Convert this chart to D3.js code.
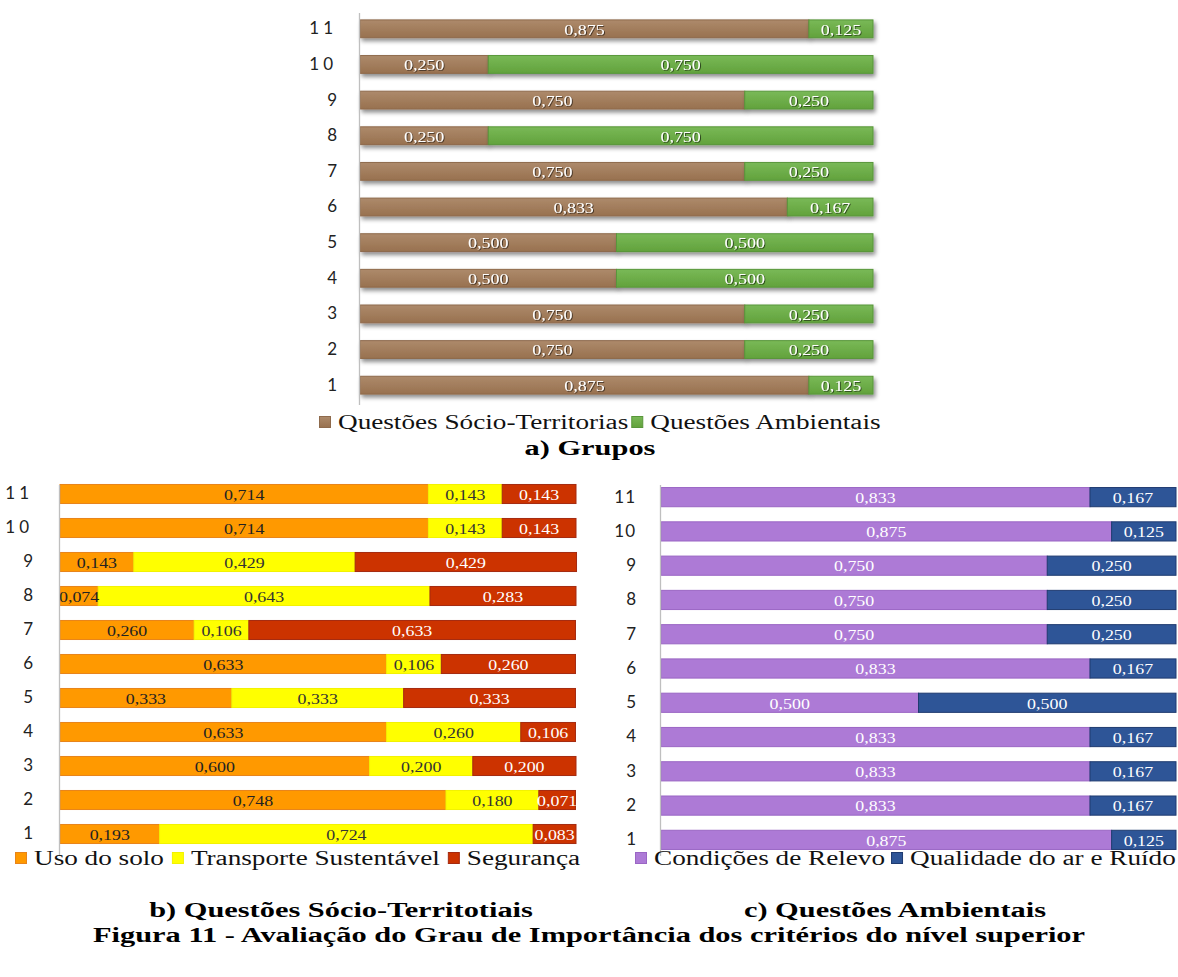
<!DOCTYPE html>
<html>
<head>
<meta charset="utf-8">
<script src="https://cdn.jsdelivr.net/npm/d3@7/dist/d3.min.js"></script>
<style>
  html, body { margin: 0; padding: 0; background: #fff; }
  svg { display: block; }
</style>
</head>
<body>
<svg id="fig" width="1178" height="977"></svg>
<script>
// Criteria rows (1..11)
const rowLabels = ["1", "2", "3", "4", "5", "6", "7", "8", "9", "10", "11"];

// a) Grupos
const grupoSeries = ["Questões Sócio-Territorias", "Questões Ambientais"];
const grupoSocio = [0.875, 0.750, 0.750, 0.500, 0.500, 0.833, 0.750, 0.250, 0.750, 0.250, 0.875];
const grupoAmbiental = [0.125, 0.250, 0.250, 0.500, 0.500, 0.167, 0.250, 0.750, 0.250, 0.750, 0.125];

// b) Questões Sócio-Territoriais
const socioSeries = ["Uso do solo", "Transporte Sustentável", "Segurança"];
const usoSolo = [0.193, 0.748, 0.600, 0.633, 0.333, 0.633, 0.260, 0.074, 0.143, 0.714, 0.714];
const transporte = [0.724, 0.180, 0.200, 0.260, 0.333, 0.106, 0.106, 0.643, 0.429, 0.143, 0.143];
const seguranca = [0.083, 0.071, 0.200, 0.106, 0.333, 0.260, 0.633, 0.283, 0.429, 0.143, 0.143];

// c) Questões Ambientais
const ambSeries = ["Condições de Relevo", "Qualidade do ar e Ruído"];
const relevo = [0.875, 0.833, 0.833, 0.833, 0.500, 0.833, 0.750, 0.750, 0.750, 0.875, 0.833];
const qualidadeAr = [0.125, 0.167, 0.167, 0.167, 0.500, 0.167, 0.250, 0.250, 0.250, 0.125, 0.167];

const captions = {
  a: "a) Grupos",
  b: "b) Questões Sócio-Territotiais",
  c: "c) Questões Ambientais",
  fig: "Figura 11 - Avaliação do Grau de Importância dos critérios do nível superior"
};

const SERIF = "'Liberation Serif', 'Times New Roman', Times, serif";
const STRETCH = 1.36;      // legend text is set wide
const CAP_STRETCH = 1.52;  // captions even wider

const svg = d3.select("#fig");
const defs = svg.append("defs");

// soft drop shadow under the bars of the group chart
const sh = defs.append("filter").attr("id", "barShadow")
  .attr("x", "-5%").attr("y", "-40%").attr("width", "115%").attr("height", "220%");
sh.append("feDropShadow").attr("dx", 2).attr("dy", 3).attr("stdDeviation", 2)
  .attr("flood-color", "#000").attr("flood-opacity", 0.45);

// subtle shadow behind white value labels
const ts = defs.append("filter").attr("id", "txtShadow")
  .attr("x", "-20%").attr("y", "-40%").attr("width", "140%").attr("height", "180%");
ts.append("feDropShadow").attr("dx", 0.8).attr("dy", 0.8).attr("stdDeviation", 0.6)
  .attr("flood-color", "#000").attr("flood-opacity", 0.6);

function gradient(id, top, bottom) {
  const g = defs.append("linearGradient").attr("id", id)
    .attr("x1", 0).attr("y1", 0).attr("x2", 0).attr("y2", 1);
  g.append("stop").attr("offset", "0%").attr("stop-color", top);
  g.append("stop").attr("offset", "100%").attr("stop-color", bottom);
  return `url(#${id})`;
}

const fmt = v => d3.format(".3f")(v).replace(".", ",");

// serif text widened horizontally around its anchor point
function wideText(parent, txt, x, y, size, opts = {}) {
  const t = parent.append("text")
    .attr("transform", `translate(${x},${y}) scale(${opts.sx || STRETCH},1)`)
    .attr("text-anchor", opts.anchor || "start")
    .attr("font-family", SERIF)
    .attr("font-size", size)
    .attr("font-weight", opts.bold ? "bold" : "normal")
    .attr("fill", opts.fill || "#000")
    .text(txt);
  if (opts.baseline) t.attr("dominant-baseline", opts.baseline);
  if (opts.filter) t.attr("filter", opts.filter);
  return t;
}

function stackedChart(opt) {
  const rows = rowLabels.map((r, i) => {
    const o = { row: r };
    opt.keys.forEach((k, j) => { o[k] = opt.values[j][i]; });
    return o;
  });
  const stack = d3.stack().keys(opt.keys)(rows);

  const x = d3.scaleLinear().domain([0, 1]).range([opt.x0, opt.x1]);
  const y = d3.scaleBand().domain(rowLabels.slice().reverse())
    .range([opt.y0, opt.y1]).paddingInner(opt.pad).paddingOuter(opt.pad / 2);

  const g = svg.append("g");

  const layers = g.selectAll("g.layer").data(stack).join("g")
    .attr("class", "layer");
  if (opt.shadow) layers.attr("filter", "url(#barShadow)");

  layers.selectAll("rect").data((d, i) => d.map(p => ({ p, i }))).join("rect")
    .attr("x", d => x(d.p[0]))
    .attr("y", d => y(d.p.data.row))
    .attr("width", d => x(d.p[1]) - x(d.p[0]))
    .attr("height", y.bandwidth())
    .attr("fill", d => opt.fills[d.i])
    .attr("stroke", d => opt.strokes[d.i])
    .attr("stroke-width", 1);

  // value labels, centred in each segment
  const lab = g.append("g");
  stack.forEach((layer, i) => {
    layer.forEach(p => {
      wideText(lab, fmt(p[1] - p[0]),
        (x(p[0]) + x(p[1])) / 2, y(p.data.row) + y.bandwidth() / 2 + 1,
        opt.valueSize,
        { anchor: "middle", baseline: "central", sx: 1.28, fill: opt.textColors[i],
          filter: opt.textShadow[i] ? "url(#txtShadow)" : null });
    });
  });

  // category axis
  const ax = g.append("g")
    .attr("transform", `translate(${opt.x0 - 1},0)`)
    .call(d3.axisLeft(y).tickSize(0).tickPadding(opt.tickPad).tickSizeOuter(0));
  ax.select(".domain").attr("stroke", "#BFBFBF").attr("stroke-width", 1.3)
    .attr("d", `M0.5,${opt.axisTop}V${opt.axisBottom}`);
  ax.selectAll(".tick text")
    .attr("font-family", "Lato, 'Open Sans', sans-serif")
    .attr("font-size", 17)
    .attr("fill", "#222")
    .attr("letter-spacing", d => d.length > 1 ? opt.spacing : 0);

  // legend
  const leg = svg.append("g").attr("transform", `translate(${opt.legX},${opt.legY})`);
  let cx = 0;
  opt.series.forEach((name, i) => {
    leg.append("rect").attr("x", cx + 0.5).attr("y", -12.5).attr("width", 11).attr("height", 11)
      .attr("fill", opt.fills[i]).attr("stroke", opt.strokes[i]).attr("stroke-width", 1);
    const t = wideText(leg, name, cx + 19, 0, opt.legSize, { fill: "#111" });
    cx += 19 + t.node().getComputedTextLength() * STRETCH + opt.legGap;
  });
}

// a) Grupos
stackedChart({
  keys: ["socio", "amb"], values: [grupoSocio, grupoAmbiental], series: grupoSeries,
  x0: 360, x1: 873, y0: 11, y1: 403, pad: 0.5, axisTop: 13, axisBottom: 405,
  fills: [gradient("gBrown", "#AD8A6B", "#98714F"), gradient("gGreen", "#79B957", "#62A23C")],
  strokes: ["#8E6A4C", "#58963A"],
  textColors: ["#fff", "#fff"], textShadow: [true, true], valueSize: 14,
  shadow: true, tickPad: 22, spacing: 4,
  legX: 319, legY: 429, legSize: 20, legGap: 3
});

// b) Questões Sócio-Territoriais
stackedChart({
  keys: ["uso", "trans", "seg"], values: [usoSolo, transporte, seguranca], series: socioSeries,
  x0: 60, x1: 576, y0: 477, y1: 851, pad: 0.44, axisTop: 485, axisBottom: 856,
  fills: ["#FF9900", "#FFFF00", "#CC3300"],
  strokes: ["#E8841A", "#F2F200", "#A52A10"],
  textColors: ["#222", "#333", "#fff"], textShadow: [false, false, false], valueSize: 14,
  shadow: false, tickPad: 26, spacing: 4,
  legX: 15, legY: 865, legSize: 20, legGap: 8
});

// c) Questões Ambientais
stackedChart({
  keys: ["rel", "ar"], values: [relevo, qualidadeAr], series: ambSeries,
  x0: 661, x1: 1176, y0: 480, y1: 857, pad: 0.44, axisTop: 485, axisBottom: 856,
  fills: ["#AD7AD6", "#2E5597"],
  strokes: ["#9A66C4", "#1F3B70"],
  textColors: ["#fff", "#fff"], textShadow: [false, false], valueSize: 14,
  shadow: false, tickPad: 24, spacing: 1,
  legX: 635, legY: 865, legSize: 20, legGap: 6
});

// captions
const capSize = 20;
wideText(svg, captions.a, 590, 455, capSize, { anchor: "middle", bold: true, sx: CAP_STRETCH });
wideText(svg, captions.b, 341, 917, capSize, { anchor: "middle", bold: true, sx: CAP_STRETCH });
wideText(svg, captions.c, 895, 917, capSize, { anchor: "middle", bold: true, sx: CAP_STRETCH });
wideText(svg, captions.fig, 589, 942, capSize, { anchor: "middle", bold: true, sx: CAP_STRETCH });
</script>
</body>
</html>
